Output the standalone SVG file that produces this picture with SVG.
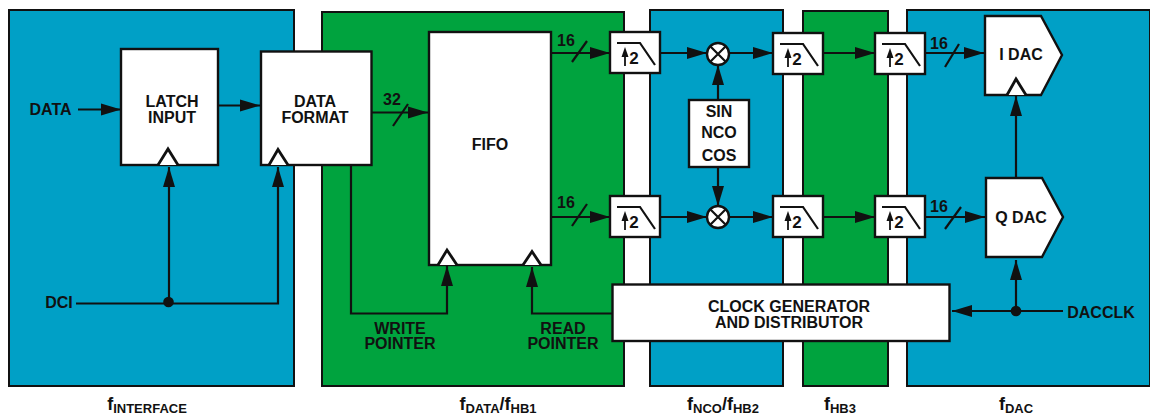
<svg xmlns="http://www.w3.org/2000/svg" width="1150" height="417" viewBox="0 0 1150 417">
<style>
text{font-family:"Liberation Sans",Arial,sans-serif;font-weight:bold;fill:#111;font-size:16px;text-anchor:middle}
.sub{font-size:13px}
.f{font-size:18px}
.zb{fill:#00a0c6;stroke:#111;stroke-width:2}
.zg{fill:#00a33e;stroke:#111;stroke-width:2}
.b{fill:#fff;stroke:#111;stroke-width:2.400}
.w{fill:none;stroke:#111;stroke-width:2.200}
.t{fill:#fff;stroke:#111;stroke-width:2.800}
.h{fill:#111}
</style>
<defs>
<marker id="a" markerUnits="userSpaceOnUse" markerWidth="21" markerHeight="14" refX="20" refY="7" orient="auto"><path d="M0,1L20,7L0,13Z" fill="#111"/></marker>
<g id="flt">
<rect class="b" x="0" y="0" width="50" height="41"/>
<path class="w" d="M7,11H30L45,33"/>
<path d="M15,34V20" stroke="#111" stroke-width="1.800"/>
<path d="M15,15L18.500,25H11.500Z" fill="#111"/>
<text x="24" y="32" style="font-size:17px">2</text>
</g>
</defs>
<g id="zones">
<rect id="z-interface" class="zb" x="9" y="10" width="285" height="376"/>
<rect id="z-data" class="zg" x="322" y="12" width="302" height="374"/>
<rect id="z-nco" class="zb" x="650" y="10" width="133" height="376"/>
<rect id="z-hb3" class="zg" x="803" y="11" width="85" height="375"/>
<rect id="z-dac" class="zb" x="907" y="10" width="243" height="376"/>
</g>
<g id="connectors">
<path class="w" d="M78,109.500H121" marker-end="url(#a)"/>
<path class="w" d="M219,105.500H260" marker-end="url(#a)"/>
<path class="w" d="M372,112.500H428" marker-end="url(#a)"/>
<path class="w" d="M76,303.500H278V167" marker-end="url(#a)"/>
<path class="w" d="M169,303V167" marker-end="url(#a)"/>
<path class="w" d="M351,166V313.500H447V266" marker-end="url(#a)"/>
<path class="w" d="M612,313.500H532V267" marker-end="url(#a)"/>
<path class="w" d="M552,53H610" marker-end="url(#a)"/>
<path class="w" d="M552,217H610" marker-end="url(#a)"/>
<path class="w" d="M660,53H707" marker-end="url(#a)"/>
<path class="w" d="M660,217H707" marker-end="url(#a)"/>
<path class="w" d="M729,53H773" marker-end="url(#a)"/>
<path class="w" d="M729,217H773" marker-end="url(#a)"/>
<path class="w" d="M824,53H875" marker-end="url(#a)"/>
<path class="w" d="M824,217H875" marker-end="url(#a)"/>
<path class="w" d="M925,53H984" marker-end="url(#a)"/>
<path class="w" d="M925,217H985" marker-end="url(#a)"/>
<path class="w" d="M718,100V65" marker-end="url(#a)"/>
<path class="w" d="M718,168V206" marker-end="url(#a)"/>
<path class="w" d="M1016,178V96" marker-end="url(#a)"/>
<path class="w" d="M1016,311V260" marker-end="url(#a)"/>
<path class="w" d="M1063,311H952" marker-end="url(#a)"/>
<path class="w" d="M393,126L408,104"/>
<path class="w" d="M572,62L587,41"/>
<path class="w" d="M572,226L587,204"/>
<path class="w" d="M945,67L959,44"/>
<path class="w" d="M945,229L961,207"/>
<circle class="h" cx="168.500" cy="302" r="5.300"/>
<circle class="h" cx="1016" cy="311" r="5.300"/>
</g>
<g id="latch"><rect class="b" x="121" y="49" width="97" height="116"/><path class="t" d="M158,165L168,149L178,165"/><text x="172" y="107">LATCH</text><text x="172" y="123">INPUT</text></g>
<g id="format"><rect class="b" x="261" y="51.500" width="110.500" height="113.500"/><path class="t" d="M269,165L278,149.500L288,165"/><text x="315" y="107">DATA</text><text x="315" y="123">FORMAT</text></g>
<g id="fifo"><rect class="b" x="429" y="32" width="122" height="233"/><path class="t" d="M438,265L447,250L457,265"/><path class="t" d="M523,265L532,251.500L541,265"/><text x="490" y="150">FIFO</text></g>
<g id="f1"><use href="#flt" x="610" y="32"/></g>
<g id="f2"><use href="#flt" x="610" y="196"/></g>
<g id="f3"><use href="#flt" x="773" y="33"/></g>
<g id="f4"><use href="#flt" x="773" y="196"/></g>
<g id="f5"><use href="#flt" x="875" y="33"/></g>
<g id="f6"><use href="#flt" x="875" y="196"/></g>
<g id="mix1"><circle class="b" cx="718" cy="54" r="11"/><path class="w" d="M710.500,46.500L725.500,61.500M725.500,46.500L710.500,61.500"/></g>
<g id="mix2"><circle class="b" cx="718" cy="217" r="11"/><path class="w" d="M710.500,209.500L725.500,224.500M725.500,209.500L710.500,224.500"/></g>
<g id="nco"><rect class="b" x="689" y="100" width="60" height="67"/><text x="719" y="117">SIN</text><text x="719" y="138">NCO</text><text x="719" y="161">COS</text></g>
<g id="idac"><path class="b" d="M985,16H1041L1062,55L1041,95H985Z"/><path class="t" d="M1007,95L1016,79L1026,95"/><text x="1021" y="60">I DAC</text></g>
<g id="qdac"><path class="b" d="M986,178H1042L1063,217L1042,257H986Z"/><text x="1021" y="223">Q DAC</text></g>
<g id="clock"><rect class="b" x="612.500" y="284.500" width="337" height="56.500"/><text x="789" y="312">CLOCK GENERATOR</text><text x="789" y="328">AND DISTRIBUTOR</text></g>
<g id="labels">
<text x="50.500" y="115">DATA</text>
<text x="59" y="308">DCI</text>
<text x="392" y="105">32</text>
<text x="566" y="46">16</text>
<text x="566" y="208">16</text>
<text x="939" y="49">16</text>
<text x="939" y="212">16</text>
<text x="400" y="334">WRITE</text><text x="400" y="349">POINTER</text>
<text x="563" y="334">READ</text><text x="563" y="349">POINTER</text>
<text x="1101" y="318">DACCLK</text>
<text class="f" x="147" y="410">f<tspan class="sub" dy="3">INTERFACE</tspan></text>
<text class="f" x="498" y="410">f<tspan class="sub" dy="3">DATA</tspan><tspan dy="-3">/f</tspan><tspan class="sub" dy="3">HB1</tspan></text>
<text class="f" x="723" y="410">f<tspan class="sub" dy="3">NCO</tspan><tspan dy="-3">/f</tspan><tspan class="sub" dy="3">HB2</tspan></text>
<text class="f" x="840" y="410">f<tspan class="sub" dy="3">HB3</tspan></text>
<text class="f" x="1016" y="410">f<tspan class="sub" dy="3">DAC</tspan></text>
</g>
</svg>
